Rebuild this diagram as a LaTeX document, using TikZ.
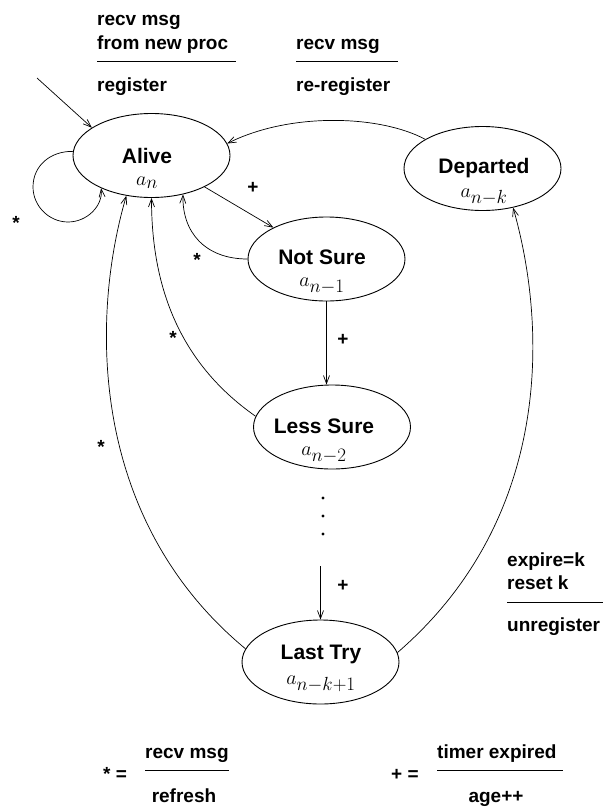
\RequirePackage{fix-cm}
\documentclass[tikz,border=0pt]{standalone}
\usepackage[no-math]{fontspec}
\setmainfont{Liberation Sans}
\DeclareMathSizes{21}{20}{19}{15}
\usetikzlibrary{arrows.meta,shapes.geometric}

\tikzset{
  stnode/.style={draw,ellipse,line width=0.9pt,minimum width=157pt,minimum height=84pt,inner sep=0pt},
  sttext/.style={anchor=north,align=center,inner sep=0pt,font=\bfseries\fontsize{21}{22}\selectfont},
  lbl/.style={anchor=base west,inner sep=0pt,font=\bfseries\fontsize{19}{23}\selectfont},
  trans/.style={->,line width=0.7pt},
}

\begin{document}
\begin{tikzpicture}[x=1pt,y=-1pt,>={Straight Barb[length=8pt,width=6pt]}]
\useasboundingbox (0,0) rectangle (605,811);
% states
\node[stnode] (Alive) at (151.5,155.5) {};
\node[stnode] (NotSure) at (326.5,259) {};
\node[stnode] (LessSure) at (332,427) {};
\node[stnode] (LastTry) at (320.5,662) {};
\node[stnode] (Departed) at (482.5,168.5) {};
\node[sttext] (AliveTxt) at (147,148) {Alive\\$a_n$};
\node[sttext] (NotSureTxt) at (322,250) {Not Sure\\$a_{n-1}$};
\node[sttext] (LessSureTxt) at (324,419) {Less Sure\\$a_{n-2}$};
\node[sttext] (LastTryTxt) at (321,645) {Last Try\\[3pt]$a_{n-k+1}$};
\node[sttext] (DepartedTxt) at (484,158) {Departed\\[2pt]$a_{n-k}$};

% transitions
\coordinate (entry) at (37,78);
\draw[trans] (entry) -- (Alive.155);
\draw[trans] (Alive.177) .. controls (50,151) and (33,166) .. (33,187)
  .. controls (33,206) and (49,222) .. (68,222)
  .. controls (87,222) and (103,206) .. (Alive.213);
\draw[trans] (Alive) -- (NotSure);
\draw[trans] (NotSure.west) .. controls (205,259) and (182,232) .. (Alive.-51);
\draw[trans] (NotSure.south) -- (NotSure.south |- LessSure.north);
\draw[trans] (LessSure.172) .. controls (175,360) and (151.5,280) .. (Alive.south);
\draw[trans] (LastTry.170) .. controls (90,520) and (90,320) .. (Alive.-122);
\draw[trans] (LastTry.7) .. controls (551,520) and (548,330) .. (Departed.-52);
\draw[trans] (Departed.153) .. controls (380,115) and (290,112) .. (Alive.9);
\fill (323,498) circle (1.7);
\fill (323,516) circle (1.7);
\fill (323,534) circle (1.7);
\coordinate (dotsEnd) at (320.5,566);
\draw[trans] (dotsEnd) -- (LastTry.north);

% transition marks
\node[lbl,anchor=base] (s1) at (16,229) {*};
\node[lbl,anchor=base] (s2) at (197,266) {*};
\node[lbl,anchor=base] (s3) at (173,344) {*};
\node[lbl,anchor=base] (s4) at (101,453) {*};
\node[lbl,anchor=base] (p1) at (253,193.5) {+};
\node[lbl,anchor=base] (p2) at (343,345.5) {+};
\node[lbl,anchor=base] (p3) at (343,591.5) {+};

% labels
\node[lbl] (regA) at (97,25) {recv msg};
\node[lbl] (regB) at (97,49) {from new proc};
\draw[line width=0.7pt] (97,61) -- (236,61);
\node[lbl] (regC) at (97,91.5) {register};
\node[lbl] (reregA) at (296,49) {recv msg};
\draw[line width=0.7pt] (296,61) -- (398,61);
\node[lbl] (reregB) at (296,91.5) {re-register};
\node[lbl] (unregA) at (507,566) {expire=k};
\node[lbl] (unregB) at (507,589) {reset k};
\draw[line width=0.7pt] (507,602) -- (603,602);
\node[lbl] (unregC) at (507,631) {unregister};

% legend
\node[lbl] (starEq) at (103,780) {* =};
\node[lbl] (starA) at (145,758) {recv msg};
\draw[line width=0.7pt] (145,770) -- (229,770);
\node[lbl,anchor=base] (starB) at (184,802) {refresh};
\node[lbl] (plusEq) at (391,780) {+ =};
\node[lbl] (plusA) at (437,758) {timer expired};
\draw[line width=0.7pt] (437,770) -- (563,770);
\node[lbl,anchor=base] (plusB) at (496,802) {age++};
\end{tikzpicture}
\end{document}
